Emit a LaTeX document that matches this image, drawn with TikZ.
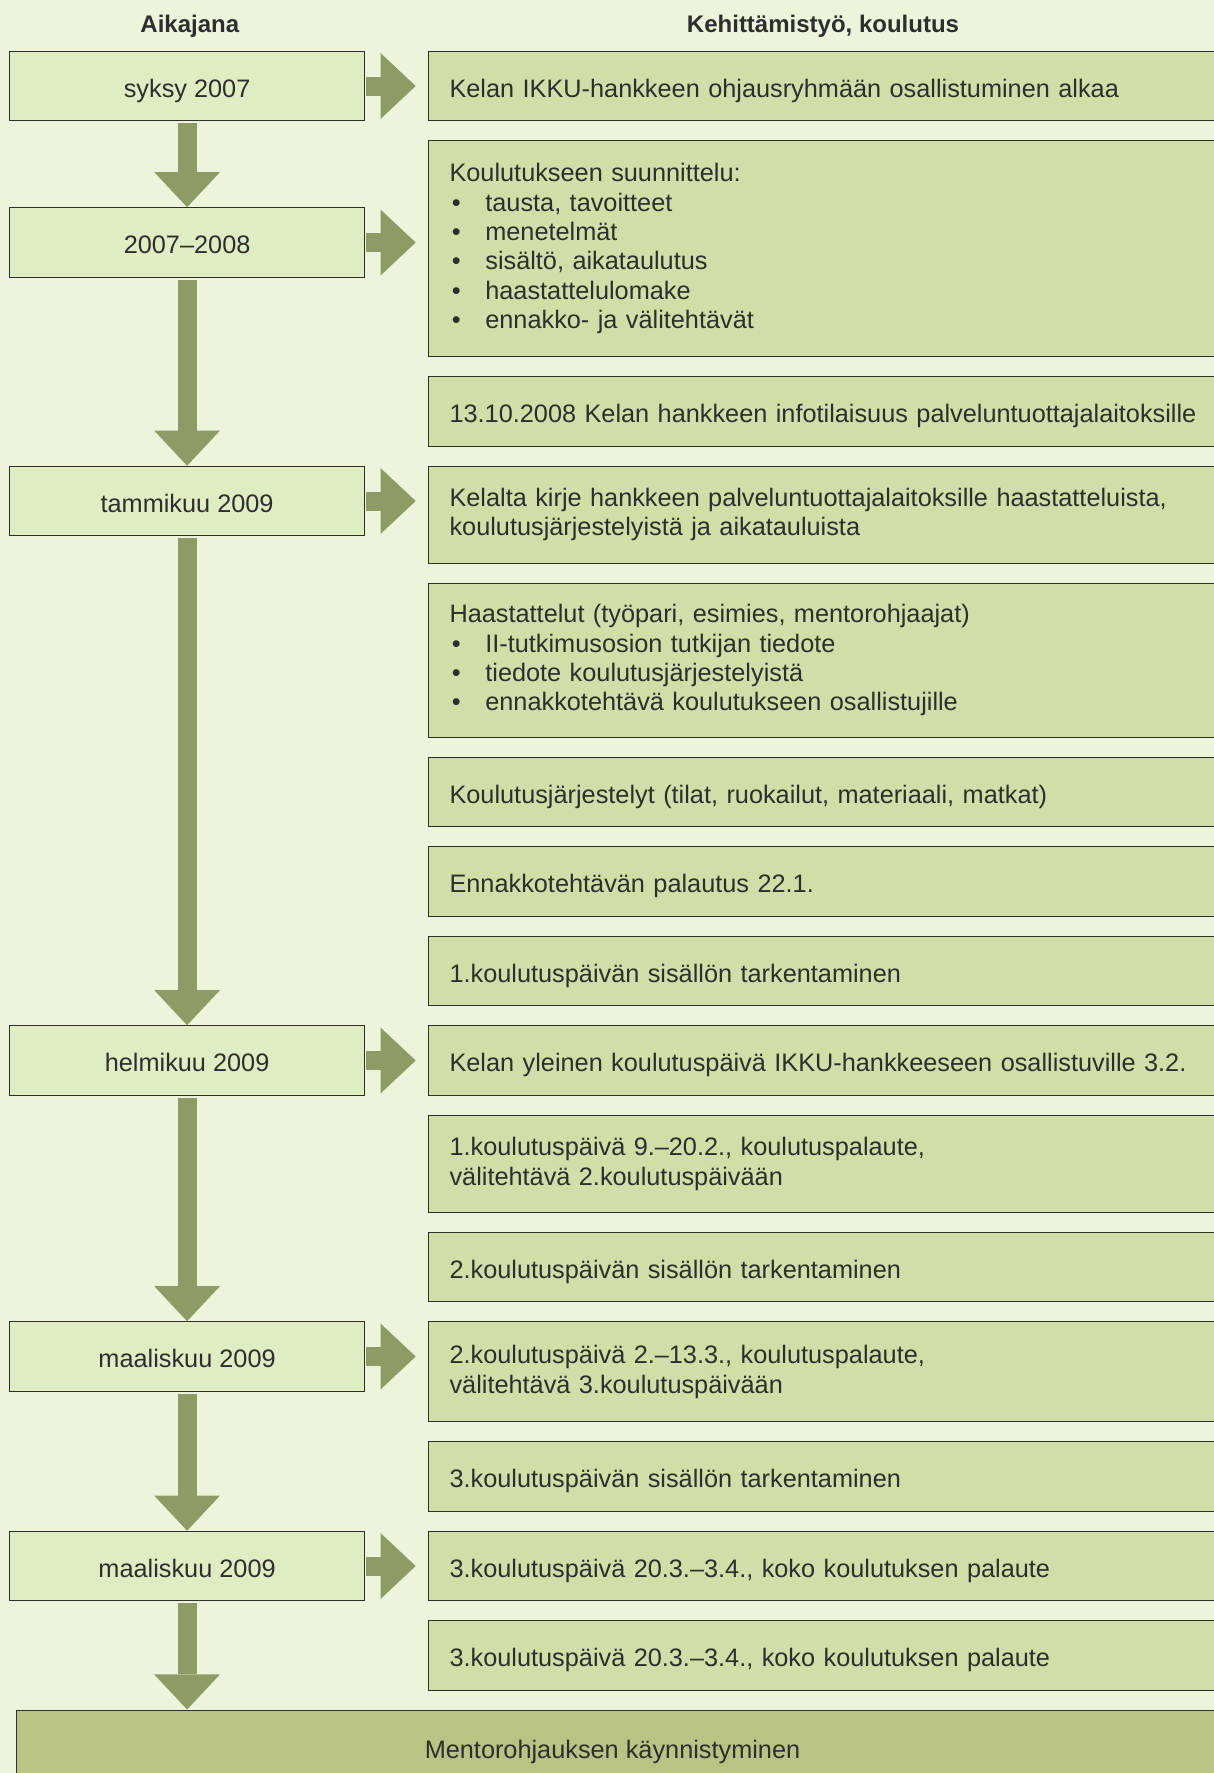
\documentclass[tikz,border=0pt]{standalone}
\usepackage{fontspec}
\setmainfont{Liberation Sans}
\usepackage{tikz}
\usetikzlibrary{arrows.meta}
\usetikzlibrary{positioning}
\definecolor{bggreen}{HTML}{EDF4DC}
\definecolor{timefill}{HTML}{DFEDC3}
\definecolor{taskfill}{HTML}{D2DEA8}
\definecolor{endfill}{HTML}{B9C484}
\definecolor{flowgreen}{HTML}{8D9B64}
\definecolor{inkgray}{HTML}{2E2E2E}
\newcommand{\bul}{\makebox[17.9pt][l]{\hspace{1.2pt}\textbullet}}

\begin{document}
\begin{tikzpicture}[
                x=1pt, y=-1pt,
                module/.style={draw=inkgray, line width=0.55pt, text=inkgray,
                        font=\fontsize{12.65}{14.7}\selectfont, inner sep=0pt},
                single/.style={text height=11.4pt, text depth=0pt},
                timebox/.style={module, single, fill=timefill, minimum width=177.35pt,
                        minimum height=34.75pt},
                taskbox/.style={module, fill=taskfill, text width=390pt,
                        inner xsep=10.35pt, align=left, minimum height=34.75pt},
                endbox/.style={module, single, fill=endfill, minimum width=617.25pt,
                        minimum height=37.2pt},
                head/.style={font=\fontsize{12}{14}\selectfont\bfseries, text=inkgray},
                flow/.style={draw=flowgreen, line width=9.5pt,
                        -{Triangle[length=17.6pt, width=33pt, line width=0pt]}},
                node distance=9.45pt,
            ]

            \useasboundingbox (0,0) rectangle (607,886.5);
            \fill[bggreen] (0,0) rectangle (607,886.5);

            \node[head] (hdtime) at (94.9,13.35) {Aikajana};
            \node[head] (hdtask) at (411.5,13.35) {Kehittämistyö, koulutus};

            % kehittämistyö
            \node[taskbox, single, anchor=north west] (k1) at (214.15,25.35)
                {Kelan IKKU-hankkeen ohjausryhmään osallistuminen alkaa};
            \node[taskbox, below=of k1, minimum height=108pt] (k2)
                {Koulutukseen suunnittelu:\\
                 \bul tausta, tavoitteet\\
                 \bul menetelmät\\
                 \bul sisältö, aikataulutus\\
                 \bul haastattelulomake\\
                 \bul ennakko- ja välitehtävät};
            \node[taskbox, single, below=of k2] (k3)
                {13.10.2008 Kelan hankkeen infotilaisuus palveluntuottajalaitoksille};
            \node[taskbox, below=of k3, minimum height=48.5pt] (k4)
                {Kelalta kirje hankkeen palveluntuottajalaitoksille haastatteluista,\\
                 koulutusjärjestelyistä ja aikatauluista};
            \node[taskbox, below=of k4, minimum height=77pt] (k5)
                {Haastattelut (työpari, esimies, mentorohjaajat)\\
                 \bul II-tutkimusosion tutkijan tiedote\\
                 \bul tiedote koulutusjärjestelyistä\\
                 \bul ennakkotehtävä koulutukseen osallistujille};
            \node[taskbox, single, below=of k5] (k6)
                {Koulutusjärjestelyt (tilat, ruokailut, materiaali, matkat)};
            \node[taskbox, single, below=of k6] (k7) {Ennakkotehtävän palautus 22.1.};
            \node[taskbox, single, below=of k7] (k8) {1.koulutuspäivän sisällön tarkentaminen};
            \node[taskbox, single, below=of k8] (k9)
                {Kelan yleinen koulutuspäivä IKKU-hankkeeseen osallistuville 3.2.};
            \node[taskbox, below=of k9, minimum height=48.5pt] (k10)
                {1.koulutuspäivä 9.–20.2., koulutuspalaute,\\
                 välitehtävä 2.koulutuspäivään};
            \node[taskbox, single, below=of k10] (k11) {2.koulutuspäivän sisällön tarkentaminen};
            \node[taskbox, below=of k11, minimum height=50pt] (k12)
                {2.koulutuspäivä 2.–13.3., koulutuspalaute,\\
                 välitehtävä 3.koulutuspäivään};
            \node[taskbox, single, below=of k12] (k13) {3.koulutuspäivän sisällön tarkentaminen};
            \node[taskbox, single, below=of k13] (k14)
                {3.koulutuspäivä 20.3.–3.4., koko koulutuksen palaute};
            \node[taskbox, single, below=of k14] (k15)
                {3.koulutuspäivä 20.3.–3.4., koko koulutuksen palaute};

            \node[endbox, anchor=north west] (mentor) at (7.75,854.75)
                {\hspace*{-20.8pt}Mentorohjauksen käynnistyminen};

            % aikajana
            \node[timebox, left=31.65pt of k1] (t1) {syksy 2007};
            \node[timebox, anchor=north east] (t2)
                at ([xshift=-31.65pt, yshift=-33.5pt]k2.north west) {2007–2008};
            \node[timebox, anchor=north east] (t3)
                at ([xshift=-31.65pt]k4.north west) {tammikuu 2009};
            \node[timebox, left=31.65pt of k9] (t4) {helmikuu 2009};
            \node[timebox, anchor=north east] (t5)
                at ([xshift=-31.65pt]k12.north west) {maaliskuu 2009};
            \node[timebox, left=31.65pt of k14] (t6) {maaliskuu 2009};

            \draw[flow, shorten <=1pt] (t1.south) -- (t2.north);
            \draw[flow, shorten <=1pt] (t2.south) -- (t3.north);
            \draw[flow, shorten <=1pt] (t3.south) -- (t4.north);
            \draw[flow, shorten <=1pt] (t4.south) -- (t5.north);
            \draw[flow, shorten <=1pt] (t5.south) -- (t6.north);
            \draw[flow, shorten <=1pt] (t6.south) -- (t6.south |- mentor.north);

            \draw[flow, shorten <=0.6pt, shorten >=6.3pt] (t1.east) -- (t1.east -| k1.west);
            \draw[flow, shorten <=0.6pt, shorten >=6.3pt] (t2.east) -- (t2.east -| k2.west);
            \draw[flow, shorten <=0.6pt, shorten >=6.3pt] (t3.east) -- (t3.east -| k4.west);
            \draw[flow, shorten <=0.6pt, shorten >=6.3pt] (t4.east) -- (t4.east -| k9.west);
            \draw[flow, shorten <=0.6pt, shorten >=6.3pt] (t5.east) -- (t5.east -| k12.west);
            \draw[flow, shorten <=0.6pt, shorten >=6.3pt] (t6.east) -- (t6.east -| k14.west);
        \end{tikzpicture}
\end{document}
